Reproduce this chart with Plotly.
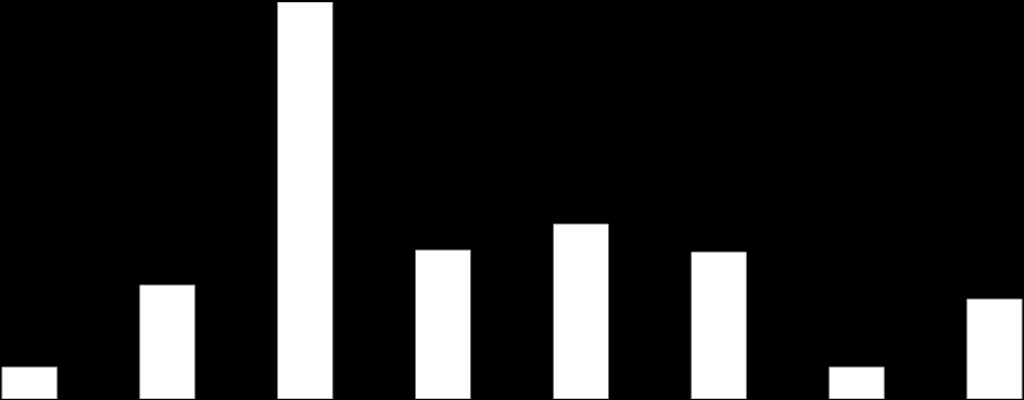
import plotly.graph_objects as go

# categories (no labels shown in the chart)
categories = ["c1", "c2", "c3", "c4", "c5", "c6", "c7", "c8"]
# bar heights (px-ish units)
values = [32, 114, 397, 149, 175, 147, 32, 100]

fig = go.Figure(
    go.Bar(
        x=categories,
        y=values,
        width=0.4,
        marker=dict(color="white", line=dict(color="#808080", width=1)),
    )
)

fig.update_layout(
    width=1024,
    height=400,
    margin=dict(l=0, r=0, t=2, b=1),
    paper_bgcolor="black",
    plot_bgcolor="black",
    showlegend=False,
    xaxis=dict(type="category", range=[-0.214, 7.214], visible=False),
    yaxis=dict(range=[0, 397], visible=False),
)

# drop the default page margin so the figure sits at the window edge
page_fix = "document.body.style.margin='0';document.body.style.background='black';"
fig.write_html("out.html", post_script=page_fix, config={"displayModeBar": False})
